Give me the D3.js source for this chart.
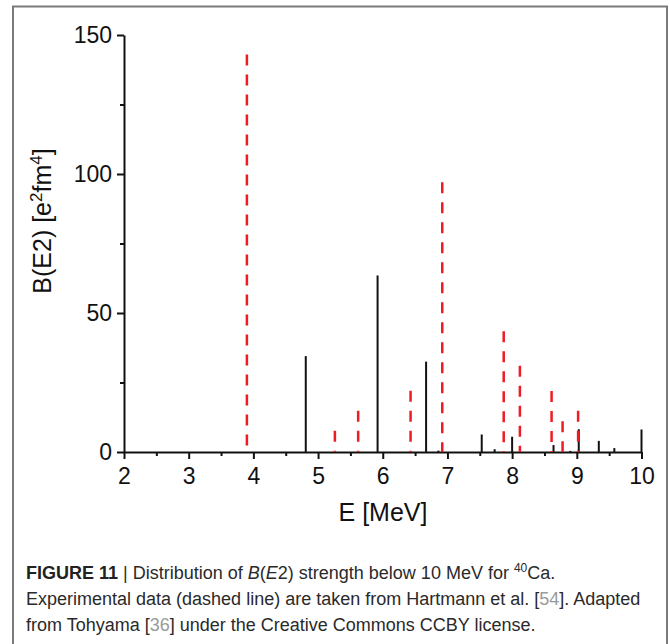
<!DOCTYPE html>
<html>
<head>
<meta charset="utf-8">
<script src="https://cdn.jsdelivr.net/npm/d3@7"></script>
<style>
  body { margin: 0; background: #fff; }
  svg { display: block; font-family: "Liberation Sans", Arial, sans-serif; }
  .axis path, .axis line { stroke: #111; stroke-width: 2; }
  .axis text { font-size: 23px; fill: #111; }
  .caption { font-size: 18px; fill: #2a2a2a; }
</style>
</head>
<body>
<div id="chart"></div>
<script>
// B(E2) strength distribution for 40Ca, theory (solid) vs experiment (dashed)

// theory (black sticks)
const theoryE = [4.81, 5.92, 6.67, 6.86, 7.53, 7.73, 8.0, 8.64, 8.9, 9.03, 9.34, 9.58, 10.0];
const theoryB = [34.5, 63.5, 32.5, 0.5, 6.3, 1.0, 5.5, 2.5, 0.4, 8.2, 4.0, 1.4, 8.1];

// experiment, Hartmann et al. (red dashed)
const exptE = [3.9, 5.26, 5.62, 6.43, 6.92, 7.87, 8.12, 8.61, 8.78, 9.02];
const exptB = [143, 7.6, 14.8, 22, 97, 43.4, 31, 21.9, 11.1, 14.8];

const xTicks = [2, 3, 4, 5, 6, 7, 8, 9, 10];
const xMinor = [2.5, 3.5, 4.5, 5.5, 6.5, 7.5, 8.5, 9.5];
const yTicks = [0, 50, 100, 150];
const yMinor = [25, 75, 125];

const width = 670;
const height = 644;

const svg = d3.select("#chart")
  .append("svg")
  .attr("width", width)
  .attr("height", height);

// figure frame
svg.append("path")
  .attr("d", "M13,650 V6.5 H667 V650")
  .attr("fill", "none")
  .attr("stroke", "#7a7a7a")
  .attr("stroke-width", 2);

// scales
const x = d3.scaleLinear().domain([2, 10]).range([124, 641.5]);
const y = d3.scaleLinear().domain([0, 150]).range([452, 35]);

// minor ticks first so the main axes sit on top
svg.append("g")
  .attr("class", "axis")
  .attr("transform", "translate(0,452)")
  .call(d3.axisBottom(x).tickValues(xMinor).tickSize(4).tickSizeOuter(0).tickFormat(""))
  .select(".domain").remove();

svg.append("g")
  .attr("class", "axis")
  .attr("transform", "translate(124,0)")
  .call(d3.axisLeft(y).tickValues(yMinor).tickSize(4).tickSizeOuter(0).tickFormat(""))
  .select(".domain").remove();

// x axis
svg.append("g")
  .attr("class", "axis")
  .attr("transform", "translate(0,452)")
  .call(d3.axisBottom(x).tickValues(xTicks).tickSize(7).tickSizeOuter(0).tickPadding(9));

// y axis
svg.append("g")
  .attr("class", "axis")
  .attr("transform", "translate(124,0)")
  .call(d3.axisLeft(y).tickValues(yTicks).tickSize(7).tickSizeOuter(0).tickPadding(5));

// theory sticks
const theory = theoryE.map((e, i) => ({ e: e, b: theoryB[i] }));
svg.selectAll(".theory")
  .data(theory)
  .enter()
  .append("line")
  .attr("class", "theory")
  .attr("x1", d => x(d.e))
  .attr("x2", d => x(d.e))
  .attr("y1", d => y(d.b))
  .attr("y2", y(0))
  .attr("stroke", "#111")
  .attr("stroke-width", 2);

// experiment dashed sticks, drawn top-down so the dash starts at the value
const expt = exptE.map((e, i) => ({ e: e, b: exptB[i] }));
svg.selectAll(".expt")
  .data(expt)
  .enter()
  .append("line")
  .attr("class", "expt")
  .attr("x1", d => x(d.e))
  .attr("x2", d => x(d.e))
  .attr("y1", d => y(d.b))
  .attr("y2", y(0))
  .attr("stroke", "#ee1c24")
  .attr("stroke-width", 2.5)
  .attr("stroke-dasharray", "11,9");

// axis labels
svg.append("text")
  .attr("x", 383)
  .attr("y", 521)
  .attr("text-anchor", "middle")
  .attr("font-size", 25)
  .attr("fill", "#111")
  .text("E [MeV]");

const yLab = svg.append("text")
  .attr("transform", "translate(51,221) rotate(-90)")
  .attr("text-anchor", "middle")
  .attr("font-size", 25)
  .attr("fill", "#111");
yLab.append("tspan").text("B(E2) [e");
yLab.append("tspan").attr("dy", -9).attr("font-size", 17).text("2");
yLab.append("tspan").attr("dy", 9).text("fm");
yLab.append("tspan").attr("dy", -9).attr("font-size", 17).text("4");
yLab.append("tspan").attr("dy", 9).text("]");

// caption
const cap1 = svg.append("text").attr("class", "caption").attr("x", 26).attr("y", 579);
cap1.append("tspan").attr("font-weight", "bold").attr("fill", "#222").text("FIGURE 11");
cap1.append("tspan").text(" | Distribution of ");
cap1.append("tspan").attr("font-style", "italic").text("B");
cap1.append("tspan").text("(");
cap1.append("tspan").attr("font-style", "italic").text("E");
cap1.append("tspan").text("2) strength below 10 MeV for ");
cap1.append("tspan").attr("font-size", 12).attr("dy", -7).text("40");
cap1.append("tspan").attr("dy", 7).text("Ca.");

const cap2 = svg.append("text").attr("class", "caption").attr("x", 26).attr("y", 605);
cap2.append("tspan").text("Experimental data (dashed line) are taken from Hartmann et al. [");
cap2.append("tspan").attr("fill", "#9a9a9a").text("54");
cap2.append("tspan").text("]. Adapted");

const cap3 = svg.append("text").attr("class", "caption").attr("x", 26).attr("y", 631);
cap3.append("tspan").text("from Tohyama [");
cap3.append("tspan").attr("fill", "#9a9a9a").text("36");
cap3.append("tspan").text("] under the Creative Commons CCBY license.");
</script>
</body>
</html>
